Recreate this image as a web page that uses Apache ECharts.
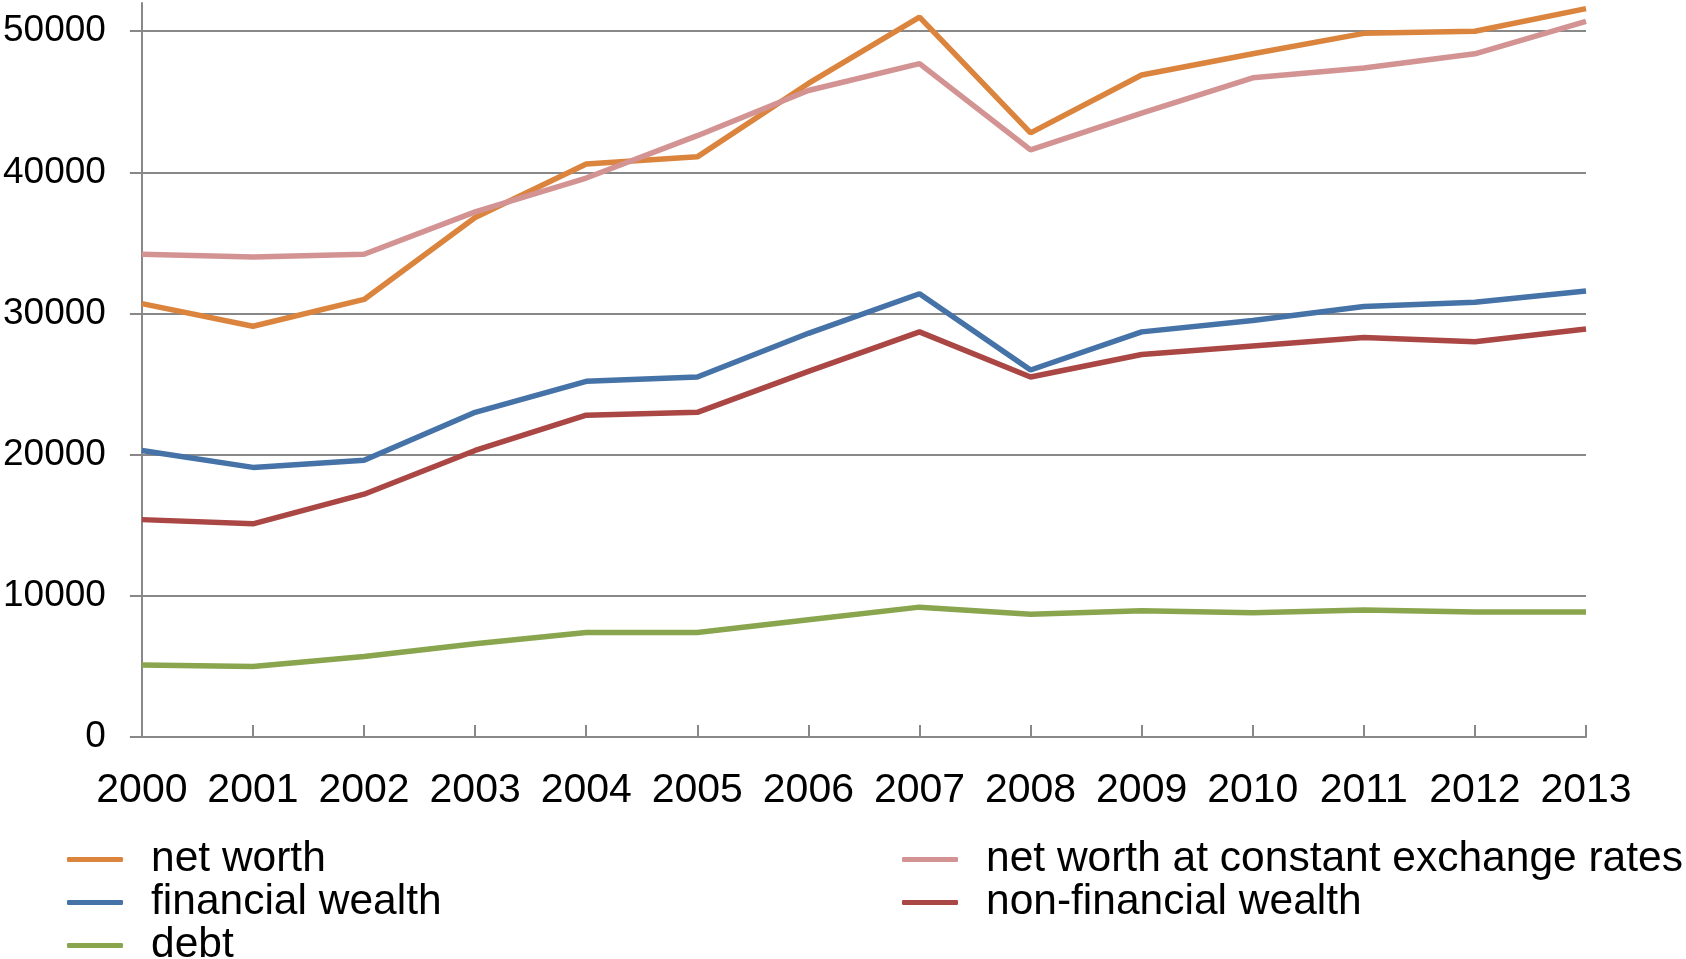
<!DOCTYPE html>
<html>
<head>
<meta charset="utf-8">
<script src="https://cdn.jsdelivr.net/npm/echarts@6/dist/echarts.min.js"></script>
<style>
html,body{margin:0;padding:0;background:#fff;}
#chart{width:1686px;height:959px;}
</style>
</head>
<body>
<div id="chart"></div>
<script>
const years = ['2000','2001','2002','2003','2004','2005','2006','2007','2008','2009','2010','2011','2012','2013'];
const yTicks = [0, 10000, 20000, 30000, 40000, 50000];

const netWorth        = [30700, 29100, 31000, 36800, 40600, 41100, 46300, 51000, 42800, 46900, 48400, 49850, 50000, 51600];
const netWorthConstFX = [34200, 34000, 34200, 37200, 39600, 42600, 45800, 47700, 41600, 44200, 46700, 47400, 48400, 50700];
const financialWealth = [20300, 19100, 19600, 23000, 25200, 25500, 28600, 31400, 26000, 28700, 29500, 30500, 30800, 31600];
const nonFinWealth    = [15400, 15100, 17200, 20300, 22800, 23000, 25900, 28700, 25500, 27100, 27700, 28300, 28000, 28900];
const debt            = [5100, 5000, 5700, 6600, 7400, 7400, 8300, 9200, 8700, 8950, 8800, 9000, 8850, 8850];

const names = ['net worth', 'net worth at constant exchange rates', 'financial wealth', 'non-financial wealth', 'debt'];
const colors = ['#DB843D', '#D39393', '#4572A7', '#AA4643', '#89A54E'];
const values = [netWorth, netWorthConstFX, financialWealth, nonFinWealth, debt];

const font = '"Liberation Sans", Arial, sans-serif';
const gridColor = '#888888';

const chart = echarts.init(document.getElementById('chart'), null, {renderer: 'canvas'});

const legendCommon = {
  orient: 'vertical',
  icon: 'roundRect',
  itemWidth: 56,
  itemHeight: 5,
  itemGap: 0,
  padding: 0,
  height: 140,
  selectedMode: false,
  textStyle: {
    fontFamily: font,
    fontSize: 42.5,
    color: '#000',
    lineHeight: 41.5,
    padding: [0, 0, 0, 23]
  }
};

chart.setOption({
  animation: false,
  backgroundColor: '#fff',
  color: colors,
  grid: {left: 140, right: 100, top: 3, bottom: 222, containLabel: false},
  legend: [
    Object.assign({}, legendCommon, {left: 67, top: 838, data: [names[0], names[2], names[4]]}),
    Object.assign({}, legendCommon, {left: 902, top: 838, data: [names[1], names[3]]})
  ],
  xAxis: {
    type: 'category',
    data: years,
    boundaryGap: false,
    axisLine: {lineStyle: {color: gridColor, width: 2}},
    axisTick: {inside: true, length: 12, lineStyle: {color: gridColor, width: 2}},
    axisLabel: {fontFamily: font, fontSize: 41, color: '#000', margin: 33, interval: 0}
  },
  yAxis: {
    type: 'value',
    min: 0,
    max: 52000,
    interval: 10000,
    axisLine: {show: true, lineStyle: {color: gridColor, width: 2}},
    axisTick: {show: true, length: 12, customValues: yTicks, lineStyle: {color: gridColor, width: 2}},
    axisLabel: {fontFamily: font, fontSize: 37, color: '#000', margin: 36, customValues: yTicks,
      formatter: v => String(v)},
    splitLine: {show: true, lineStyle: {color: gridColor, width: 2}}
  },
  series: names.map((n, i) => ({
    name: n,
    type: 'line',
    data: values[i],
    symbol: 'none',
    lineStyle: {width: 5.5, color: colors[i]},
    itemStyle: {color: colors[i]}
  }))
});
</script>
</body>
</html>
